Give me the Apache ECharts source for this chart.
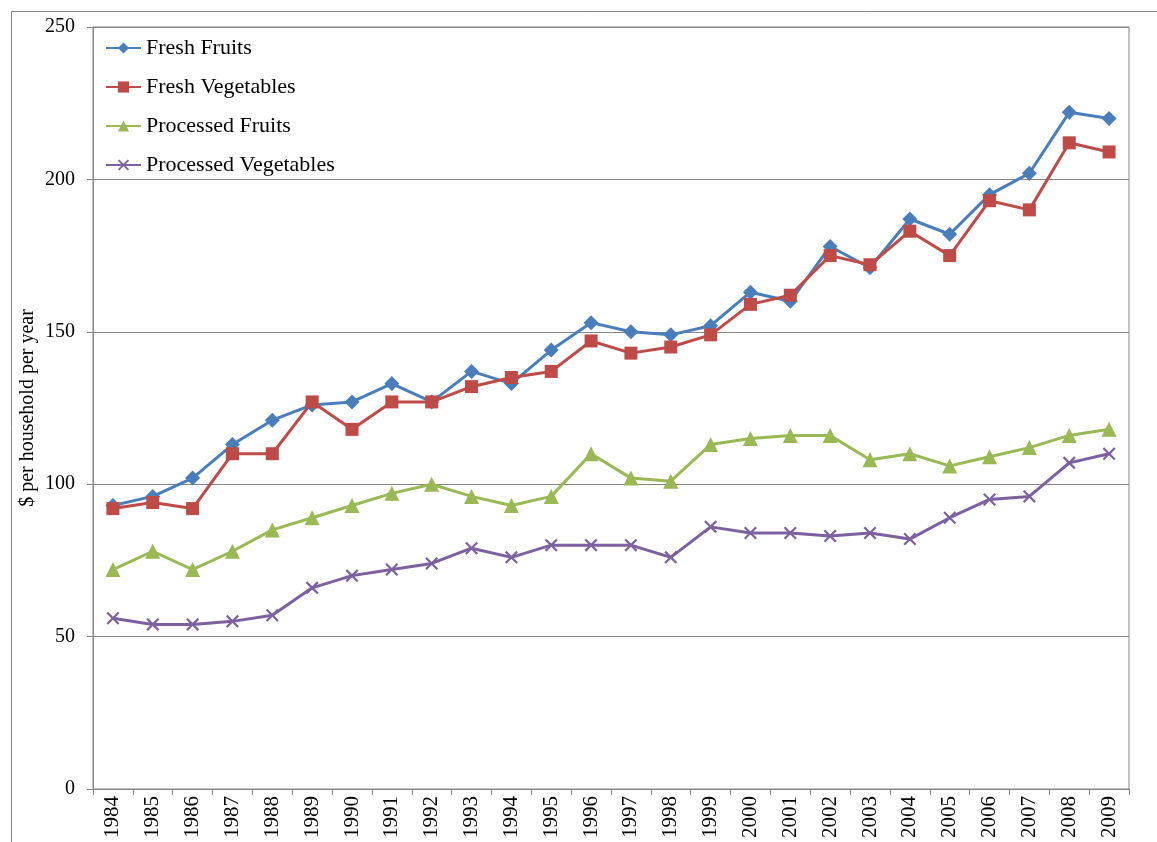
<!DOCTYPE html>
<html>
<head>
<meta charset="utf-8">
<script src="https://cdn.jsdelivr.net/npm/echarts@6/dist/echarts.min.js"></script>
<style>html,body{margin:0;padding:0;background:#fff}#c{width:1157px;height:842px}</style>
</head>
<body>
<div id="c"></div>
<script>
var years = ['1984','1985','1986','1987','1988','1989','1990','1991','1992','1993','1994','1995','1996','1997','1998','1999','2000','2001','2002','2003','2004','2005','2006','2007','2008','2009'];
var freshFruits = [93,96,102,113,121,126,127,133,127,137,133,144,153,150,149,152,163,160,178,171,187,182,195,202,222,220];
var freshVegetables = [92,94,92,110,110,127,118,127,127,132,135,137,147,143,145,149,159,162,175,172,183,175,193,190,212,209];
var processedFruits = [72,78,72,78,85,89,93,97,100,96,93,96,110,102,101,113,115,116,116,108,110,106,109,112,116,118];
var processedVegetables = [56,54,54,55,57,66,70,72,74,79,76,80,80,80,76,86,84,84,83,84,82,89,95,96,107,110];
var yTicks = [0,50,100,150,200,250];

var font = '"Liberation Serif","Times New Roman",serif';
var xSym = 'path://M0,1.2 L1.2,0 L5,3.8 L8.8,0 L10,1.2 L6.2,5 L10,8.8 L8.8,10 L5,6.2 L1.2,10 L0,8.8 L3.8,5 Z';

function mk(name, data, color, symbol, size) {
  return {
    name: name, type: 'line', data: data,
    symbol: symbol, symbolSize: size,
    lineStyle: {color: color, width: 3},
    itemStyle: {color: color},
    emphasis: {disabled: true},
    animation: false
  };
}

var chart = echarts.init(document.getElementById('c'));
chart.setOption({
  animation: false,
  backgroundColor: '#fff',
  graphic: [{
    type: 'rect', shape: {x: 11.5, y: 11.5, width: 1160, height: 860},
    style: {fill: 'none', stroke: '#868686', lineWidth: 1}, silent: true
  }],
  grid: {left: 93, right: 28, top: 27, bottom: 53, show: true, borderColor: '#868686', borderWidth: 1, backgroundColor: 'transparent'},
  legend: {
    orient: 'vertical', left: 100, top: 32,
    itemWidth: 35, itemHeight: 14, itemGap: 17,
    textStyle: {fontFamily: font, fontSize: 22, color: '#000'},
    data: ['Fresh Fruits','Fresh Vegetables','Processed Fruits','Processed Vegetables']
  },
  xAxis: {
    type: 'category', data: years, boundaryGap: true,
    axisLine: {lineStyle: {color: '#868686', width: 1}},
    axisTick: {show: true, length: 6, alignWithLabel: false, lineStyle: {color: '#868686'}},
    axisLabel: {rotate: 90, margin: 7, interval: 0, fontFamily: font, fontSize: 21, color: '#000'}
  },
  yAxis: {
    type: 'value', min: yTicks[0], max: yTicks[yTicks.length-1], interval: 50,
    name: '$ per household per year', nameLocation: 'middle', nameGap: 55, nameMoveOverlap: false,
    nameTextStyle: {fontFamily: font, fontSize: 20, color: '#000'},
    axisLine: {show: true, lineStyle: {color: '#868686', width: 1}},
    axisTick: {show: true, length: 6, lineStyle: {color: '#868686'}},
    splitLine: {lineStyle: {color: '#868686', width: 1}},
    axisLabel: {margin: 18, fontFamily: font, fontSize: 20, color: '#000'}
  },
  series: [
    mk('Fresh Fruits', freshFruits, '#4A7EBB', 'diamond', 15),
    mk('Fresh Vegetables', freshVegetables, '#BE4B48', 'rect', 13),
    mk('Processed Fruits', processedFruits, '#98B954', 'triangle', 15),
    mk('Processed Vegetables', processedVegetables, '#7D60A0', xSym, 13)
  ]
});
</script>
</body>
</html>
